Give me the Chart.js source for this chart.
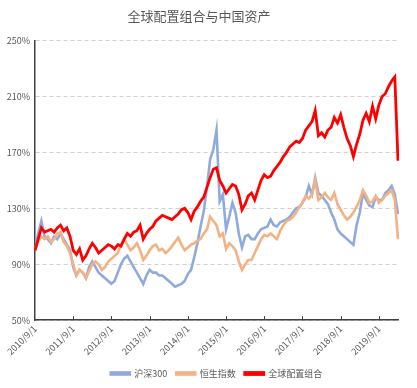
<!DOCTYPE html>
<html lang="zh">
<head>
<meta charset="UTF-8">
<title>全球配置组合与中国资产</title>
<script src="https://cdn.jsdelivr.net/npm/chart.js"></script>
<style>
  html, body { margin: 0; padding: 0; background: #ffffff; }
  #wrap { width: 417px; height: 388px; }
</style>
</head>
<body>
<div id="wrap"><canvas id="chart"></canvas></div>
<script>
  // monthly points, 2010/9 .. 2020/3
  const months = [];
  for (let y = 2010, m = 9; y < 2020 || (y === 2020 && m <= 3); m++) {
    if (m > 12) { m = 1; y++; if (y === 2020 && m > 3) break; }
    months.push(y + '/' + m + '/1');
  }

  const yTicks = [50, 90, 130, 170, 210, 250];

  const hs300 = [
    100, 112, 121, 110, 108, 105, 110, 108, 112, 108, 104, 100,
    88, 82, 86, 84, 80, 88, 92, 88, 84, 82, 80, 78,
    76, 78, 84, 90, 94, 96, 92, 88, 84, 80, 76, 82,
    86, 84, 84, 82, 82, 80, 78, 76, 74, 75, 76, 78,
    83, 86, 95, 105, 117, 128, 145, 165, 172, 186, 135, 140,
    115, 124, 134, 127, 112, 102, 110, 111, 108, 108, 112, 115,
    116, 117, 122, 118, 117, 120, 121, 122, 124, 127, 130, 131,
    134, 138, 146, 140, 152, 141, 139, 136, 133, 127, 122, 115,
    112, 110, 108, 106, 104, 118, 127, 141, 136, 132, 131, 138,
    136, 136, 141, 143, 146, 140, 126
  ];

  const hsi = [
    100, 106, 110, 108, 110, 106, 108, 112, 113, 106, 103, 98,
    90, 82, 86, 84, 80, 85, 90, 92, 90, 86, 88, 92,
    94, 96, 98, 104, 108, 104, 100, 102, 105, 100, 93, 96,
    100, 103, 104, 100, 101, 98, 100, 103, 106, 109, 104, 100,
    102, 104, 105, 107, 108, 112, 115, 124, 121, 118, 110, 112,
    101, 105, 103, 100, 92, 86, 90, 93, 93, 98, 103, 108,
    111, 110, 112, 110, 108, 114, 118, 121, 122, 124, 127, 131,
    134, 139, 137, 140, 150, 136, 138, 141, 138, 136, 141, 133,
    129, 125, 122, 124, 127, 131, 136, 143, 139, 134, 135, 139,
    134, 136, 139, 141, 143, 136, 108
  ];

  const globalMix = [
    100, 108, 116, 113, 114, 115, 113, 116, 118, 114, 116, 110,
    100, 97, 101, 93, 96, 101, 105, 102, 98, 100, 102, 104,
    103, 101, 104, 103, 108, 112, 110, 113, 114, 118, 108, 112,
    115, 117, 121, 123, 125, 124, 123, 122, 124, 126, 129, 130,
    127, 122, 128, 131, 135, 138, 145, 152, 158, 159, 150, 146,
    141, 144, 147, 146, 140, 129, 133, 139, 141, 136, 143, 150,
    154, 152, 153, 157, 160, 163, 167, 170, 174, 176, 178, 177,
    180, 186, 189, 192, 200, 182, 184, 181, 186, 188, 195, 191,
    197, 188, 180, 175, 167, 176, 183, 193, 198, 192, 203, 194,
    204, 210, 212, 217, 221, 224, 164
  ];

  const font = "'Noto Sans CJK SC', 'Noto Sans', sans-serif";

  // Excel-style inside tick marks on the x axis at each year label
  const insideTicks = {
    id: 'insideTicks',
    afterDraw(chart) {
      const x = chart.scales.x;
      const ctx = chart.ctx;
      ctx.save();
      ctx.strokeStyle = '#404040';
      ctx.lineWidth = 1;
      months.forEach((m, i) => {
        if (i === 0 || m.split('/')[1] !== '9') return;
        const px = Math.round(x.getPixelForValue(i)) + 0.5;
        ctx.beginPath();
        ctx.moveTo(px, x.top);
        ctx.lineTo(px, x.top - 4);
        ctx.stroke();
      });
      ctx.restore();
    }
  };

  new Chart(document.getElementById('chart'), {
    type: 'line',
    data: {
      labels: months,
      datasets: [
        {
          label: '沪深300',
          data: hs300,
          borderColor: '#8FAADC',
          backgroundColor: '#8FAADC',
          borderWidth: 2.6,
          order: 2
        },
        {
          label: '恒生指数',
          data: hsi,
          borderColor: '#F4B183',
          backgroundColor: '#F4B183',
          borderWidth: 2.6,
          order: 1
        },
        {
          label: '全球配置组合',
          data: globalMix,
          borderColor: '#FF0000',
          backgroundColor: '#FF0000',
          borderWidth: 2.8,
          order: 0
        }
      ]
    },
    options: {
      responsive: true,
      maintainAspectRatio: false,
      animation: false,
      layout: { padding: { left: 0, right: 19, top: 0, bottom: 0 } },
      elements: { point: { radius: 0 }, line: { tension: 0 } },
      plugins: {
        title: {
          display: true,
          text: '全球配置组合与中国资产',
          color: '#595959',
          font: { family: font, size: 13, weight: 'normal' },
          padding: { top: 8, bottom: 17 }
        },
        legend: {
          position: 'bottom',
          fullSize: false,
          labels: {
            color: '#595959',
            font: { family: font, size: 9 },
            boxWidth: 19,
            boxHeight: 2,
            padding: 9,
            sort: (a, b) => a.datasetIndex - b.datasetIndex
          }
        },
        tooltip: { enabled: false }
      },
      scales: {
        x: {
          grid: { display: false, drawTicks: false },
          border: { display: true, color: '#404040', width: 1.5 },
          ticks: {
            autoSkip: false,
            maxRotation: 45,
            minRotation: 45,
            padding: 3,
            color: '#595959',
            font: { family: font, size: 9 },
            callback: function (v, i) {
              const lab = months[i];
              return lab.split('/')[1] === '9' ? lab : '';
            }
          }
        },
        y: {
          min: 50,
          max: 250,
          afterFit: (scale) => { scale.width = 35; },
          afterBuildTicks: (scale) => {
            scale.ticks = yTicks.map(v => ({ value: v }));
          },
          grid: {
            color: '#D0D0D0',
            lineWidth: 1,
            drawTicks: false
          },
          border: { display: true, color: '#404040', width: 1.5, dash: [4, 3] },
          ticks: {
            padding: 5,
            color: '#595959',
            font: { family: font, size: 9 },
            callback: (v) => v + '%'
          }
        }
      }
    },
    plugins: [insideTicks]
  });
</script>
</body>
</html>
